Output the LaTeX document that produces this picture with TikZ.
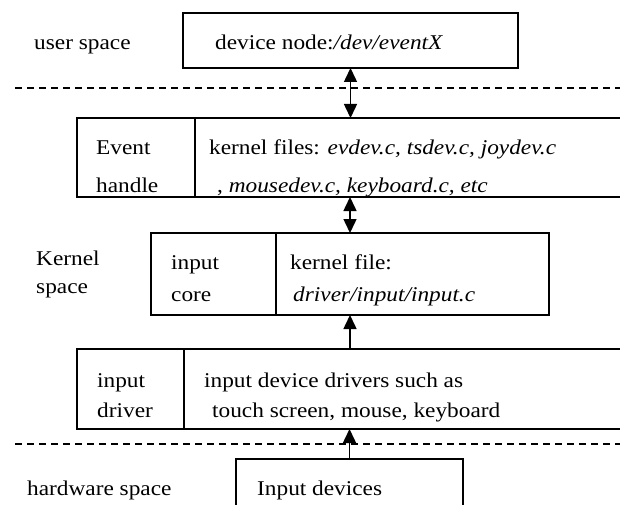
\documentclass[tikz,border=0pt]{standalone}
\usepackage{fontspec}
\setmainfont{Liberation Serif}[FakeStretch=1.11]
\usetikzlibrary{arrows.meta, positioning}

\begin{document}
\begin{tikzpicture}[x=1pt, y=-1pt, font=\fontsize{21}{25}\selectfont,
    >={Triangle[length=14pt,width=13pt]},
    box/.style={draw, line width=1.4pt, anchor=north west, inner sep=0pt, outer sep=0pt},
    txt/.style={anchor=base west, inner sep=0pt},
    sepline/.style={line width=1.2pt, dash pattern=on 7pt off 5pt},
    link/.style={line width=1.5pt}]
  \useasboundingbox (0,0) rectangle (620,505);
  \clip (0,0) rectangle (620,505);
  % user space
  \node[txt] (usr) at (34,50) {user space};
  \node[box, minimum width=335, minimum height=55] (dev) at (183,13) {};
  \node[txt] (devtxt) at (215,50) {device node:\textit{/dev/eventX}};
  % user / kernel border
  \coordinate (sepAl) at (15,88);
  \coordinate (sepAr) at (620,88);
  \draw[sepline] (sepAl) -- (sepAr);
  % event handler layer
  \node[box, minimum width=560, minimum height=79] (evh) at (77,118) {};
  \draw[line width=1.4pt] (evh.north west) ++(118,0) -- ++(0,79);
  \node[txt] (evhA) at (96,155) {Event};
  \node[txt] (evhB) at (96,192) {handle};
  \node[txt] (evhC) at (209,155) {kernel files: \textit{evdev.c, tsdev.c, joydev.c}};
  \node[txt] (evhD) at (217,192) {, \textit{mousedev.c, keyboard.c, etc}};
  % kernel space label
  \node[txt] (kerA) at (36,265) {Kernel};
  \node[txt] (kerB) at (36,293) {space};
  % input core layer
  \node[box, minimum width=398, minimum height=82] (core) at (151,233) {};
  \draw[line width=1.4pt] (core.north west) ++(125,0) -- ++(0,82);
  \node[txt] (coreA) at (171,269) {input};
  \node[txt] (coreB) at (171,301) {core};
  \node[txt] (coreC) at (290,269) {kernel file:};
  \node[txt] (coreD) at (293,301) {\textit{driver/input/input.c}};
  % input driver layer
  \node[box, minimum width=560, minimum height=80] (drv) at (77,349) {};
  \draw[line width=1.4pt] (drv.north west) ++(107,0) -- ++(0,80);
  \node[txt] (drvA) at (97,387) {input};
  \node[txt] (drvB) at (97,417) {driver};
  \node[txt] (drvC) at (204,387) {input device drivers such as};
  \node[txt] (drvD) at (212,417) {touch screen, mouse, keyboard};
  % kernel / hardware border
  \coordinate (sepBl) at (15,444);
  \coordinate (sepBr) at (620,444);
  \draw[sepline] (sepBl) -- (sepBr);
  % hardware
  \node[txt] (hw) at (27,495) {hardware space};
  \node[box, minimum width=227, minimum height=60] (inp) at (236,459) {};
  \node[txt] (inptxt) at (257,495) {Input devices};
  % connectors
  \draw[link, <->] (dev.south) -- (dev.south |- evh.north);
  \draw[link, <->] (core.north |- evh.south) -- (core.north);
  \draw[link, ->] (core.south |- drv.north) -- (core.south);
  \draw[link, ->] (inp.north) -- (inp.north |- drv.south);
\end{tikzpicture}
\end{document}
